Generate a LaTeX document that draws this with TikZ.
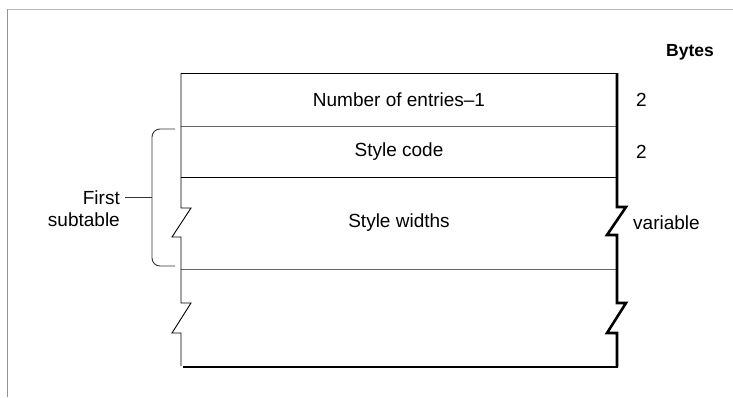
\documentclass[tikz,border=0pt]{standalone}
\usepackage{fontspec}
\setmainfont{Liberation Sans}

\begin{document}
\begin{tikzpicture}[x=1pt, y=-1pt,
    txt/.style={font=\fontsize{19}{22}\selectfont, inner sep=0pt},
    frameline/.style={line width=1.5pt},
    divider/.style={line width=0.9pt},
    heavy/.style={line width=2.6pt}]
    \useasboundingbox (0,0) rectangle (733,397);

    \draw[frameline, black!28] (7,9.5) -- (733,9.5);
    \draw[frameline, black!42] (7.5,9) -- (7.5,397);

    \draw[divider] (181,73) -- (617,73);
    \draw[divider, black!60] (181,126) -- (617,126);
    \draw[divider] (181,177) -- (617,177);
    \draw[divider, black!60] (181,269) -- (617,269);

    \draw[divider] (181,73) -- (181,208) -- (191,208) -- (172,237) -- (181,237)
        -- (181,303) -- (191,303) -- (172,333) -- (181,333) -- (181,366);
    \draw[heavy] (617,73) -- (617,207) -- (626,207) -- (607,235) -- (617,235)
        -- (617,303) -- (626,303) -- (607,333) -- (617,333) -- (617,367);
    \draw[heavy] (183,367) -- (618.3,367);

    \draw[divider, black!80, rounded corners=8pt] (175,129) -- (152,129) -- (152,266) -- (175,266);
    \draw[divider, black!80] (125,197) -- (152,197);

    \node[txt, font=\fontsize{17.5}{21}\selectfont\bfseries, anchor=west] (bytes) at (666,52) {Bytes};
    \node[txt] (count) at (399,100) {Number of entries–1};
    \node[txt] (code) at (399,152) {Style code};
    \node[txt] (widths) at (399,223) {Style widths};
    \node[txt, anchor=west] (countsize) at (636,100) {2};
    \node[txt, anchor=west] (codesize) at (636,152) {2};
    \node[txt, anchor=west] (widthsize) at (633,223) {variable};
    \node[txt, align=right, anchor=east] (first) at (120,209) {First\\subtable};
\end{tikzpicture}
\end{document}
